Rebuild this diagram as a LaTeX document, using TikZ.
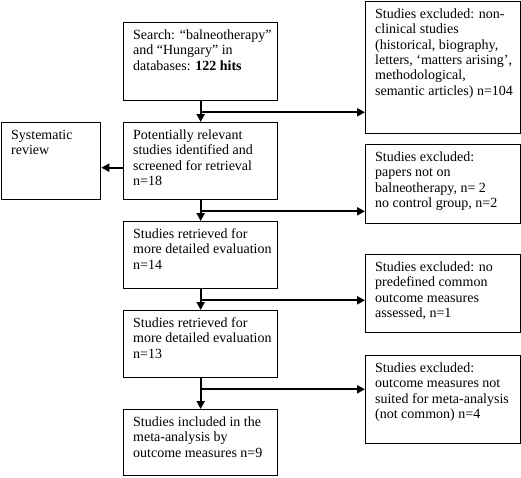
\documentclass[tikz,border=0pt]{standalone}
\usepackage{fontspec}
\setmainfont{Liberation Serif}
\usetikzlibrary{arrows.meta,calc}
\newcommand\boxtext[3]{\parbox[c][#2][t]{#1}{\raggedright\leftskip=9.5pt\vspace*{6.3pt}\strut #3}}
\begin{document}
\begin{tikzpicture}[x=1pt,y=-1pt,
  every node/.style={font=\fontsize{14}{15.3}\selectfont},
  box/.style={draw, line width=1.3pt, inner sep=0pt, anchor=north west},
  arr/.style={line width=2pt, -{Triangle[length=8pt,width=8pt]}}]
\useasboundingbox (0,0) rectangle (521,477);
\node[box] (b1) at (123,22) {\boxtext{154pt}{78pt}{Search: “balneotherapy”\\and “Hungary” in\\databases: \textbf{122 hits}}};
\node[box] (b2) at (123,122) {\boxtext{154pt}{77pt}{Potentially relevant\\studies identified and\\screened for retrieval\\n=18}};
\node[box] (b3) at (123,221) {\boxtext{154pt}{67pt}{Studies retrieved for\\more detailed evaluation\\n=14}};
\node[box] (b4) at (123,310) {\boxtext{154pt}{67pt}{Studies retrieved for\\more detailed evaluation\\n=13}};
\node[box] (b5) at (123,409) {\boxtext{154pt}{66pt}{Studies included in the\\meta-analysis by\\outcome measures n=9}};
\node[box] (sys) at (1,122) {\boxtext{99pt}{77pt}{Systematic\\review}};
\node[box] (r1) at (365,1) {\boxtext{155pt}{132pt}{Studies excluded: non-\\clinical studies\\(historical, biography,\\letters, ‘matters arising’,\\methodological,\\semantic articles) n=104}};
\node[box] (r2) at (365,144) {\boxtext{155pt}{79pt}{Studies excluded:\\papers not on\\balneotherapy, n= 2\\no control group, n=2}};
\node[box] (r3) at (365,254) {\boxtext{155pt}{78pt}{Studies excluded: no\\predefined common\\outcome measures\\assessed, n=1}};
\node[box] (r4) at (365,355) {\boxtext{155pt}{88pt}{Studies excluded:\\outcome measures not\\suited for meta-analysis\\(not common) n=4}};
% main flow
\draw[arr] (b1.south) -- (b2.north);
\draw[arr] (b2.south) -- (b3.north);
\draw[arr] (b3.south) -- (b4.north);
\draw[arr] (b4.south) -- (b5.north);
% branches
\coordinate (j1) at ($(b1.south)+(0,11)$);
\coordinate (j2) at ($(b2.south)+(0,11)$);
\coordinate (j3) at ($(b3.south)+(0,11)$);
\coordinate (j4) at ($(b4.south)+(0,11)$);
\draw[arr] (j1) -- (j1 -| r1.west);
\draw[arr] (j2) -- (j2 -| r2.west);
\draw[arr] (j3) -- (j3 -| r3.west);
\draw[arr] (j4) -- (j4 -| r4.west);
% systematic review
\coordinate (s1) at ($(b2.west)+(0,6.5)$);
\draw[arr] (s1) -- (s1 -| sys.east);
\end{tikzpicture}
\end{document}
